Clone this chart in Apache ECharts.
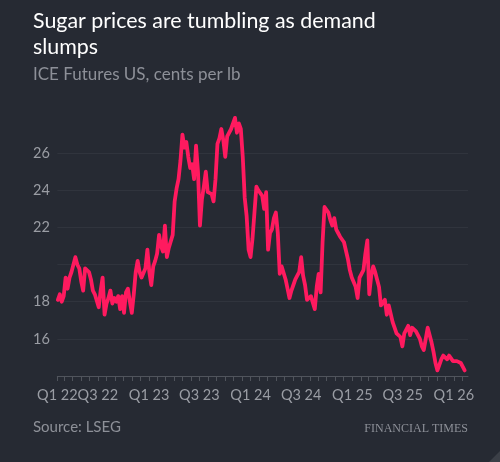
<!DOCTYPE html>
<html><head><meta charset="utf-8">
<script src="https://cdn.jsdelivr.net/npm/echarts@6/dist/echarts.min.js"></script>
<style>html,body{margin:0;padding:0;background:#262a33;}#c{width:500px;height:462px;}</style>
</head><body><div id="c"></div>
<script>
// Weekly closing values, cents per lb, starting week of 7 Feb 2022
const startDate = [2022, 1, 7];
const values = [
18.1,18.4,18.0,18.3,19.3,18.7,19.3,19.6,19.5,20.4,20.0,19.8,19.1,18.6,19.8,19.9,19.6,19.2,18.6,18.4,
18.3,17.7,18.6,19.3,17.3,17.9,18.2,18.6,17.9,18.2,18.0,18.3,17.6,18.3,17.4,18.5,18.7,18.0,17.4,18.4,
19.6,20.2,19.6,19.3,19.4,19.8,20.8,19.6,18.9,19.9,20.2,20.6,21.6,21.0,20.7,22.1,20.4,20.9,20.8,21.6,
23.4,24.1,24.6,25.6,27.0,26.3,26.6,25.8,25.2,25.4,24.6,26.4,25.0,22.1,23.5,24.2,25.0,23.9,24.0,23.8,
23.4,24.6,26.5,26.8,27.3,26.7,25.8,26.9,26.9,27.3,27.4,27.9,27.1,27.6,27.3,25.8,23.6,22.6,20.8,20.4,
21.4,22.8,24.2,24.0,24.1,23.7,23.0,23.9,20.8,21.7,21.9,22.5,22.8,21.7,19.5,19.9,19.9,19.2,18.7,18.2,
18.6,18.9,19.2,19.4,19.6,20.4,19.4,18.9,18.1,18.0,18.3,18.4,17.6,18.8,19.5,18.5,21.2,23.1,23.0,22.8,
22.4,22.1,22.5,21.9,21.7,21.5,21.4,21.2,21.3,20.3,19.7,19.3,19.4,18.8,18.2,19.3,19.5,19.7,20.6,21.3,
18.4,19.4,19.9,19.6,19.2,18.8,17.8,17.7,18.1,17.3,17.8,17.8,16.9,16.6,16.3,16.4,16.1,15.6,16.3,16.5,
16.7,16.2,16.6,16.7,16.4,16.3,16.0,15.6,15.4,16.0,16.6,16.6,15.8,15.3,14.7,14.3,14.6,14.9,15.1,15.0,
14.9,15.1,15.1,14.8,14.9,14.8,14.8,14.7,14.5,14.3
];
const xLabelDates = [[2022,1,5],[2022,6,1],[2023,0,1],[2023,6,1],[2024,0,1],[2024,6,1],[2025,0,1],[2025,6,1],[2026,0,1]];
const xLabels = ['Q1 22','Q3 22','Q1 23','Q3 23','Q1 24','Q3 24','Q1 25','Q3 25','Q1 26'];
const yLabels = [16, 18, 22, 24, 26];

const DAY = 86400000;
const t0 = Date.UTC(startDate[0], startDate[1], startDate[2]);
const seriesData = values.map((v, i) => [t0 + i * 7 * DAY, v]);
const xMin = Date.UTC(2022, 1, 5);
const xMax = Date.UTC(2026, 1, 21);
const labelTs = xLabelDates.map(d => Date.UTC(d[0], d[1], d[2]));
const tickTs = [xMin];
for (let y = 2022; y <= 2026; y++) for (let m = 0; m < 12; m++) {
  const t = Date.UTC(y, m, 1);
  if (t > xMin && t <= xMax) tickTs.push(t);
}

const chart = echarts.init(document.getElementById('c'), null, {renderer: 'canvas'});
const FONT = 'Lato';
chart.setOption({
  backgroundColor: '#262a33',
  animation: false,
  title: [
    {text: 'Sugar prices are tumbling as demand\nslumps', left: 33, top: 8, padding: 0,
     textStyle: {color: '#ffffff', fontFamily: FONT, fontSize: 21.4, fontWeight: 'normal', lineHeight: 26}},
    {text: 'ICE Futures US, cents per lb', left: 33, top: 65, padding: 0,
     textStyle: {color: '#8d9098', fontFamily: FONT, fontSize: 17, fontWeight: 'normal', lineHeight: 20}}
  ],
  grid: {left: 57.3, right: 32, top: 116, bottom: 86, containLabel: false},
  xAxis: {
    type: 'value', min: xMin, max: xMax,
    axisLine: {show: true, lineStyle: {color: '#50545c', width: 1}},
    axisTick: {show: true, customValues: tickTs, length: 5, lineStyle: {color: '#50545c'}},
    splitLine: {show: false},
    axisLabel: {
      customValues: labelTs, hideOverlap: false, showMinLabel: true, margin: 12,
      color: '#9a9da4', fontFamily: FONT, fontSize: 14.5,
      formatter: function (val) {
        for (let i = 0; i < labelTs.length; i++) if (Math.abs(labelTs[i] - val) < DAY) return xLabels[i];
        return '';
      }
    }
  },
  yAxis: {
    type: 'value', min: 14, max: 28, interval: 2, position: 'left',
    axisLine: {show: false}, axisTick: {show: false},
    splitLine: {show: true, showMinLine: false, showMaxLine: false, lineStyle: {color: '#30343d', width: 1}},
    axisLabel: {customValues: yLabels, align: 'left', margin: 24.3, color: '#9a9da4', fontFamily: FONT, fontSize: 14.5}
  },
  series: [{
    type: 'line', data: seriesData, showSymbol: false, smooth: false,
    lineStyle: {color: '#ff1a5f', width: 3.8, cap: 'round', join: 'round'}
  }],
  graphic: [
    {type: 'text', left: 33, top: 420, style: {text: 'Source: LSEG', fill: '#8d9098', font: '15px Lato'}},
    {type: 'text', right: 32, top: 423, style: {text: 'FINANCIAL TIMES', fill: '#8d9098', font: '12px "Liberation Serif"'}},
    {type: 'polygon', shape: {points: [[500, 451], [500, 462], [489, 462]]}, style: {fill: '#3b3f47'}}
  ]
});
</script></body></html>
